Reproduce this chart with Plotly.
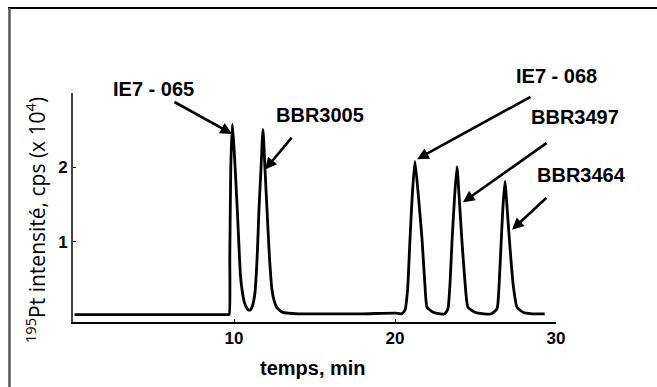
import plotly.graph_objects as go

# Chromatogram (time in min, intensity in cps x 10^4)
time_min = [0.1, 5.0, 9.6, 9.70, 9.74, 9.80, 9.90, 10.02, 10.2, 10.4, 10.5, 10.65, 10.85, 10.99,
            11.15, 11.3, 11.45, 11.55, 11.68, 11.8, 11.92, 12.05, 12.2, 12.36, 12.5, 12.67, 13.04,
            14.0, 16.0, 18.0, 20.0, 20.4, 20.62, 20.78, 20.93, 21.08, 21.24, 21.46, 21.68, 21.85,
            21.99, 22.36, 22.8, 23.1, 23.29, 23.42, 23.54, 23.7, 23.85, 24.0, 24.16, 24.35, 24.53,
            24.97, 25.5, 26.0, 26.34, 26.46, 26.58, 26.7, 26.83, 26.98, 27.14, 27.35, 27.58, 27.95,
            28.5, 29.3]
intensity = [0.02, 0.02, 0.02, 0.02, 0.8, 2.0, 2.58, 2.2, 1.45, 0.55, 0.35, 0.18, 0.09, 0.08,
             0.14, 0.31, 0.85, 1.43, 2.0, 2.51, 2.0, 1.43, 0.8, 0.35, 0.2, 0.11, 0.05,
             0.03, 0.03, 0.03, 0.04, 0.03, 0.08, 0.35, 1.03, 1.65, 2.08, 1.6, 1.03, 0.45,
             0.12, 0.05, 0.03, 0.03, 0.1, 0.45, 1.0, 1.6, 2.01, 1.55, 1.0, 0.45, 0.12,
             0.05, 0.03, 0.03, 0.1, 0.4, 0.93, 1.45, 1.81, 1.4, 0.93, 0.4, 0.12, 0.05,
             0.03, 0.03]

x_ticks = [10, 20, 30]
y_ticks = [1, 2]

peak_labels = ["IE7 - 065", "BBR3005", "IE7 - 068", "BBR3497", "BBR3464"]
arrow_head_x = [9.88, 11.93, 21.37, 24.22, 27.27]
arrow_head_y = [2.45, 1.97, 2.11, 1.53, 1.16]
arrow_tail_x = [6.21, 13.66, 28.51, 29.5, 29.5]
arrow_tail_y = [2.89, 2.42, 2.96, 2.34, 1.61]
label_px = [0.1677, 0.5114, 1.0, 1.0393, 1.0538]
label_py = [1.0175, 0.9039, 1.0742, 0.8952, 0.6419]

fig = go.Figure()
fig.add_trace(go.Scatter(x=time_min, y=intensity, mode="lines",
                         line=dict(color="black", width=2.8, shape="spline", smoothing=0.5),
                         hoverinfo="skip", showlegend=False))

bold = dict(family="Liberation Sans, Arial, sans-serif", size=20, color="black")
ann = []
for i, lab in enumerate(peak_labels):
    ann.append(dict(x=arrow_head_x[i], y=arrow_head_y[i], xref="x", yref="y",
                    ax=arrow_tail_x[i], ay=arrow_tail_y[i], axref="x", ayref="y",
                    text="", showarrow=True, arrowhead=2, arrowsize=0.9,
                    arrowwidth=2.6, arrowcolor="black"))
    ann.append(dict(x=label_px[i], y=label_py[i], xref="paper", yref="paper",
                    text="<b>%s</b>" % lab, showarrow=False, font=bold,
                    xanchor="center", yanchor="middle"))

ann.append(dict(x=-0.0787, y=0.445, xref="paper", yref="paper", textangle=-90,
                text="<sup>195</sup>Pt intensité, cps (x 10<sup>4</sup>)", showarrow=False,
                font=dict(family="Open Sans, sans-serif", size=21, color="black"),
                xanchor="center", yanchor="middle"))
ann.append(dict(x=0.496, y=-0.145, xref="paper", yref="paper", text="<b>temps, min</b>",
                showarrow=False, font=bold, xanchor="center", yanchor="top"))

shapes = [
    dict(type="line", xref="paper", yref="paper", x0=-0.1346, x1=1.21, y0=1.371, y1=1.371,
         line=dict(color="black", width=2)),
    dict(type="line", xref="paper", yref="paper", x0=-0.1315, x1=-0.1315, y0=1.371, y1=-0.3,
         line=dict(color="#555555", width=2.5)),
]

fig.update_layout(
    width=657, height=387,
    margin=dict(l=73, r=101, t=93, b=65),
    paper_bgcolor="white", plot_bgcolor="white",
    annotations=ann, shapes=shapes,
    xaxis=dict(range=[0, 30], tickvals=x_ticks, ticktext=["<b>%d</b>" % v for v in x_ticks],
               showline=True, linecolor="black", linewidth=1.5, showgrid=False, zeroline=False,
               ticks="inside", ticklen=3, tickcolor="black",
               tickfont=dict(family="Liberation Sans, Arial, sans-serif", size=17, color="black")),
    yaxis=dict(range=[-0.08, 3.0], tickvals=y_ticks, ticktext=["<b>%d</b>" % v for v in y_ticks],
               showline=True, linecolor="#444444", linewidth=2, showgrid=False, zeroline=False,
               ticks="inside", ticklen=3, tickcolor="black",
               tickfont=dict(family="Liberation Sans, Arial, sans-serif", size=17, color="black")),
)

fig.write_html("out.html")
